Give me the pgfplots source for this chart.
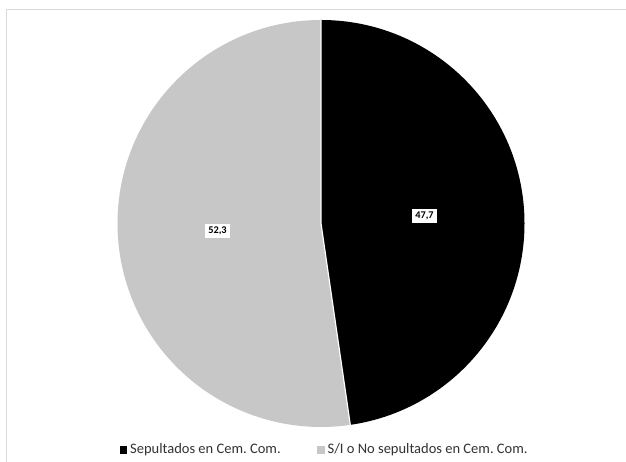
\documentclass[border=0pt]{standalone}
\usepackage{fontspec}
\setmainfont{Carlito}
\usepackage{pgfplots}
\usepackage{pgfplotstable}
\pgfplotsset{compat=1.18}
\definecolor{sliceGray}{RGB}{199,199,199}
\definecolor{frameGray}{RGB}{217,217,217}
\definecolor{legText}{RGB}{50,50,50}
\pgfplotstableread{
value
47.7
52.3
}\piedata
\frenchspacing
\begin{document}
\begin{tikzpicture}
\useasboundingbox (0pt,0pt) rectangle (626pt,462pt);
\fill[white] (0pt,0pt) rectangle (626pt,462pt);
\draw[frameGray, line width=1pt] (6pt,-5pt) -- (6pt,452pt) -- (640pt,452pt);
\pgfplotstablegetelem{0}{value}\of\piedata \let\va\pgfplotsretval
\pgfplotstablegetelem{1}{value}\of\piedata \let\vb\pgfplotsretval
\pgfmathsetmacro\ea{90-3.6*\va}
\pgfmathsetmacro\ma{90-1.8*\va}
\pgfmathsetmacro\mb{\ea-1.8*\vb}
\begin{axis}[at={(321pt,238.5pt)}, anchor=center, x=203.5pt, y=203.5pt,
  xmin=-1, xmax=1, ymin=-1, ymax=1, hide axis, clip=false,
  /pgf/number format/assume math mode=true,
  legend columns=2,
  legend cell align=left,
  legend style={draw=none, fill=none, inner sep=0pt,
    at={(axis cs:-0.99,-1.1106)}, anchor=west,
    font=\fontsize{14.5}{17}\selectfont, text=legText,
    nodes={inner xsep=3.5pt, inner ysep=0pt},
    /tikz/every even column/.append style={column sep=33pt}},
]
\fill[sliceGray] (axis cs:0,0) -- (axis cs:0,1) arc[start angle=90, end angle={\ea+360}, radius=1] -- cycle;
\fill[black] (axis cs:0,0) -- (axis cs:0,1) arc[start angle=90, end angle=\ea, radius=1] -- cycle;
\draw[white, line width=1.2pt] (axis cs:0,1) -- (axis cs:0,0) -- (axis cs:{cos(\ea)},{sin(\ea)});
\addlegendimage{legend image code/.code={\fill[black] (0pt,-3.3pt) rectangle (6.6pt,3.3pt);}}
\addlegendentry{Sepultados en Cem. Com.}
\addlegendimage{legend image code/.code={\fill[sliceGray] (0pt,-3.3pt) rectangle (6.6pt,3.3pt);}}
\addlegendentry{S/I o No sepultados en Cem. Com.}
\node[fill=white, inner xsep=3pt, inner ysep=2.5pt, font=\bfseries\fontsize{10.3}{12}\selectfont]
  at (axis cs:{0.51*cos(\ma)},{0.51*sin(\ma)}) {\pgfmathprintnumber[fixed,precision=1,fixed zerofill,use comma,assume math mode=true]{\va}};
\node[fill=white, inner xsep=3pt, inner ysep=2.5pt, font=\bfseries\fontsize{10.3}{12}\selectfont]
  at (axis cs:{0.51*cos(\mb)},{0.51*sin(\mb)}) {\pgfmathprintnumber[fixed,precision=1,fixed zerofill,use comma,assume math mode=true]{\vb}};
\end{axis}
\end{tikzpicture}
\end{document}
